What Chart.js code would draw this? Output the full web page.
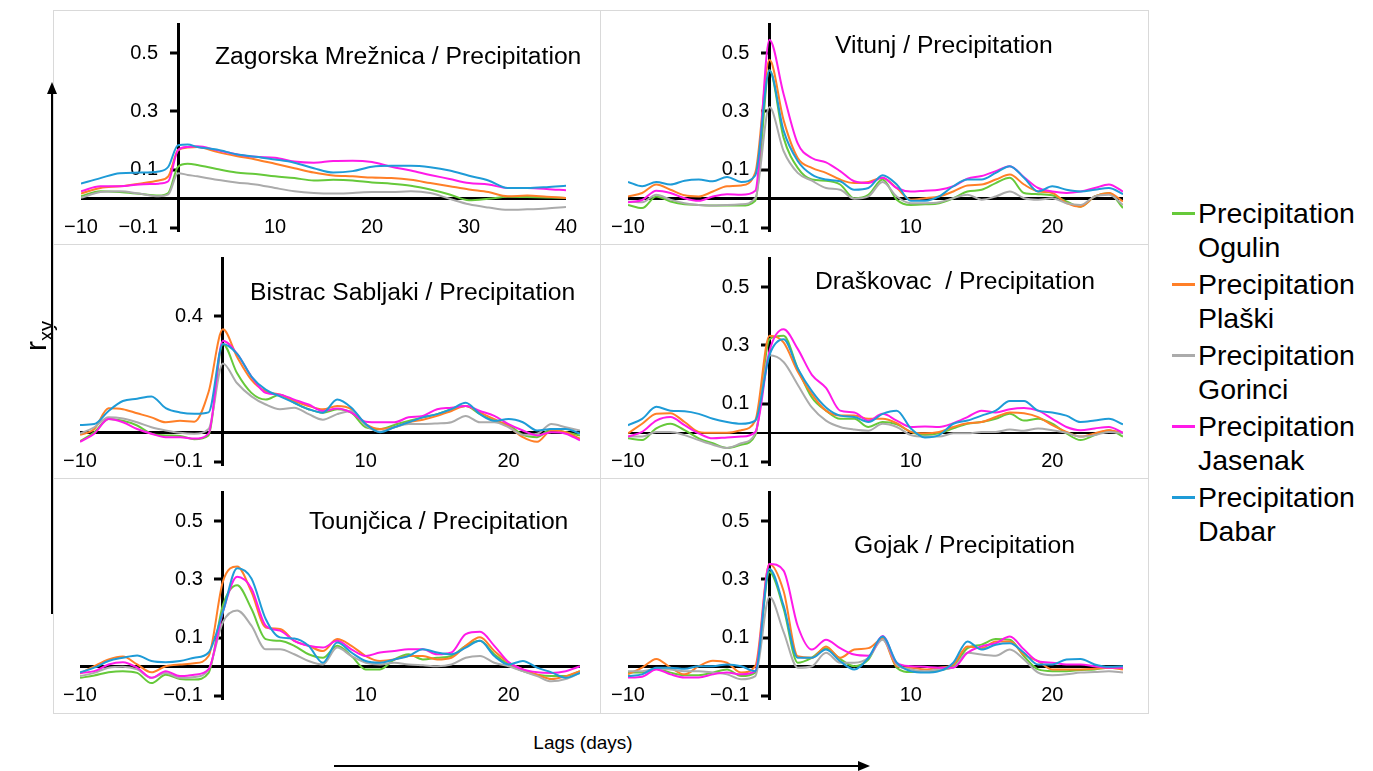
<!DOCTYPE html>
<html>
<head>
<meta charset="utf-8">
<script src="https://cdn.jsdelivr.net/npm/chart.js@4.4.1/dist/chart.umd.min.js"></script>
<style>
    body { margin: 0; background: #fff; font-family: "Liberation Sans", Arial, sans-serif; }
    #wrap { position: relative; width: 1373px; height: 771px; overflow: hidden; }
    #wrap canvas { position: absolute; }
    .ttl { position: absolute; font-size: 24.7px; line-height: 24px; white-space: pre; color: #000; }
    .leg { position: absolute; left: 1172px; font-size: 28.5px; line-height: 34px; color: #000; }
    .leg .sw { position: absolute; left: 0; top: 16px; width: 23px; height: 3px; }
    .leg .lt { position: absolute; left: 26px; top: 0; white-space: nowrap; }
    #xlab { position: absolute; left: 483px; width: 200px; top: 733px; text-align: center; font-size: 19px; line-height: 20px; }
    #ylab { position: absolute; left: 0px; top: 316px; width: 72px; height: 40px; text-align: center; font-size: 30px; line-height: 40px; transform: rotate(-90deg); }
    #ylab sub { font-size: 20px; }
    svg { position: absolute; left: 0; top: 0; pointer-events: none; }
</style>
</head>
<body>
<div id="wrap">
    <canvas id="c1" width="547" height="234" style="left:53px;top:10px"></canvas>
    <canvas id="c2" width="548" height="234" style="left:600px;top:10px"></canvas>
    <canvas id="c3" width="547" height="234" style="left:53px;top:244px"></canvas>
    <canvas id="c4" width="548" height="234" style="left:600px;top:244px"></canvas>
    <canvas id="c5" width="547" height="234" style="left:53px;top:478px"></canvas>
    <canvas id="c6" width="548" height="234" style="left:600px;top:478px"></canvas>
    <div id="titles"></div>
    <div id="legend"></div>
    <div id="xlab">Lags (days)</div>
    <div id="ylab">r<sub>xy</sub></div>
    <svg width="1373" height="771">
        <rect x="53.5" y="10.5" width="1095" height="703" fill="none" stroke="#d9d9d9" stroke-width="1"/>
        <line x1="600.5" y1="10" x2="600.5" y2="713" stroke="#d9d9d9" stroke-width="1"/>
        <line x1="53" y1="244.5" x2="1148" y2="244.5" stroke="#d9d9d9" stroke-width="1"/>
        <line x1="53" y1="478.5" x2="1148" y2="478.5" stroke="#d9d9d9" stroke-width="1"/>
        <line x1="52" y1="614" x2="52" y2="92" stroke="#000" stroke-width="2"/>
        <polygon points="52,82 47,94 57,94" fill="#000"/>
        <line x1="334" y1="766" x2="860" y2="766" stroke="#000" stroke-width="2"/>
        <polygon points="870,766 858,761 858,771" fill="#000"/>
    </svg>
</div>
<script>
    // series (same order in every panel)
    var seriesNames = ['Precipitation Ogulin', 'Precipitation Plaški', 'Precipitation Gorinci', 'Precipitation Jasenak', 'Precipitation Dabar'];
    var seriesColors = ['#66C93A', '#FF7F27', '#ABABAB', '#FF1AE8', '#1E9BD7'];

    var panelTitles = ['Zagorska Mrežnica / Precipitation', 'Vitunj / Precipitation', 'Bistrac Sabljaki / Precipitation',
        'Draškovac  / Precipitation', 'Tounjčica / Precipitation', 'Gojak / Precipitation'];

    // lags (days)
    var lagsLong = [-10, -8, -6, -4, -2, -1, 0, 1, 2, 4, 6, 8, 10, 12, 14, 16, 18, 20, 22, 24, 26, 28, 30, 32, 34, 36, 38, 40];
    var lagsDaily = [-10, -9, -8, -7, -6, -5, -4, -3, -2, -1, 0, 1, 2, 3, 4, 5, 6, 7, 8, 9, 10, 11, 12,
        13, 14, 15, 16, 17, 18, 19, 20, 21, 22, 23, 24, 25];

    // tick labels
    var xTicksLong = [-10, 10, 20, 30, 40];
    var xTicksShort = [-10, 10, 20];
    var yTicksStd = [-0.1, 0.1, 0.3, 0.5];
    var yTicksBistrac = [-0.1, 0.4];

    // rxy values: Ogulin, Plaški, Gorinci, Jasenak, Dabar
    var rZagorska = [
        [0.009, 0.026, 0.023, 0.017, 0.011, 0.02, 0.11, 0.12, 0.116, 0.102, 0.09, 0.085, 0.077, 0.071, 0.063, 0.065, 0.063, 0.056, 0.052, 0.045, 0.032, 0.015, -0.005, 0, 0.007, 0.006, 0.004, 0.003],
        [0.018, 0.037, 0.043, 0.052, 0.063, 0.077, 0.167, 0.176, 0.178, 0.161, 0.147, 0.135, 0.12, 0.105, 0.09, 0.08, 0.077, 0.073, 0.071, 0.065, 0.054, 0.043, 0.032, 0.023, 0.009, 0.011, 0.007, 0.003],
        [0.003, 0.023, 0.026, 0.018, 0.009, 0.015, 0.088, 0.082, 0.077, 0.065, 0.056, 0.049, 0.037, 0.026, 0.02, 0.018, 0.02, 0.023, 0.023, 0.026, 0.02, 0, -0.019, -0.03, -0.038, -0.036, -0.033, -0.028],
        [0.026, 0.043, 0.043, 0.049, 0.052, 0.06, 0.167, 0.178, 0.18, 0.167, 0.153, 0.144, 0.141, 0.128, 0.124, 0.13, 0.131, 0.126, 0.11, 0.097, 0.082, 0.068, 0.054, 0.049, 0.037, 0.037, 0.034, 0.029],
        [0.052, 0.071, 0.088, 0.09, 0.094, 0.11, 0.184, 0.186, 0.178, 0.169, 0.153, 0.144, 0.135, 0.124, 0.105, 0.09, 0.095, 0.11, 0.113, 0.113, 0.108, 0.097, 0.079, 0.063, 0.037, 0.037, 0.04, 0.045]
    ];

    var rVitunj = [
        [-0.021, -0.032, 0.008, -0.009, -0.019, -0.021, -0.023, -0.023, -0.023, -0.007, 0.442, 0.21, 0.106, 0.066, 0.062, 0.049, 0.002, 0.014, 0.066, -0.003, -0.021, -0.019, -0.015, 0.002, 0.025, 0.031, 0.054, 0.072, 0.02, 0.016, 0.012, -0.009, -0.027, 0.008, 0.02, -0.032],
        [0.008, 0.02, 0.049, 0.031, 0.012, 0.008, 0.025, 0.043, 0.046, 0.09, 0.477, 0.27, 0.14, 0.106, 0.089, 0.066, 0.054, 0.058, 0.072, 0.037, -0.003, 0.002, 0.008, 0.025, 0.046, 0.049, 0.066, 0.083, 0.049, 0.025, 0.02, -0.015, -0.027, 0.008, 0.02, -0.009],
        [-0.009, -0.012, 0.014, -0.003, -0.015, -0.021, -0.023, -0.021, -0.019, 0.002, 0.315, 0.164, 0.089, 0.062, 0.037, 0.031, 0, 0.008, 0.058, 0.008, -0.015, -0.015, -0.012, 0.002, 0.014, -0.003, 0.008, 0.025, 0.002, -0.003, 0.002, -0.015, -0.021, 0.008, 0.014, -0.021],
        [-0.012, -0.004, 0.028, 0.02, 0.002, -0.007, 0.008, 0.016, 0.014, 0.028, 0.546, 0.36, 0.19, 0.14, 0.125, 0.095, 0.06, 0.054, 0.072, 0.037, 0.025, 0.028, 0.031, 0.043, 0.069, 0.078, 0.095, 0.112, 0.074, 0.037, 0.025, 0.02, 0.025, 0.037, 0.049, 0.025],
        [0.058, 0.043, 0.058, 0.049, 0.062, 0.066, 0.06, 0.075, 0.058, 0.08, 0.44, 0.234, 0.13, 0.083, 0.066, 0.06, 0.031, 0.037, 0.081, 0.049, -0.007, -0.007, 0.008, 0.043, 0.066, 0.066, 0.089, 0.112, 0.072, 0.025, 0.043, 0.031, 0.025, 0.031, 0.037, 0.016]
    ];

    var rBistrac = [
        [-0.029, 0.002, 0.047, 0.041, 0.025, -0.003, -0.009, -0.011, -0.022, -0.009, 0.305, 0.204, 0.137, 0.114, 0.131, 0.103, 0.081, 0.069, 0.081, 0.069, 0.019, 0.013, 0.027, 0.041, 0.053, 0.064, 0.081, 0.092, 0.064, 0.041, 0.027, -0.007, -0.015, 0.013, 0.002, -0.009],
        [-0.007, 0.013, 0.084, 0.081, 0.067, 0.053, 0.036, 0.041, 0.038, 0.14, 0.355, 0.26, 0.182, 0.142, 0.131, 0.109, 0.092, 0.081, 0.092, 0.081, 0.03, 0.013, 0.019, 0.036, 0.045, 0.058, 0.075, 0.092, 0.069, 0.047, 0.022, -0.015, -0.031, 0.008, 0.002, -0.02],
        [-0.003, 0.019, 0.053, 0.049, 0.036, 0.019, 0.008, 0, -0.003, 0.013, 0.238, 0.17, 0.125, 0.097, 0.081, 0.086, 0.064, 0.045, 0.064, 0.075, 0.025, 0.004, 0.019, 0.03, 0.03, 0.032, 0.036, 0.058, 0.036, 0.036, 0.019, -0.007, -0.003, 0.03, 0.019, 0.008],
        [-0.031, -0.003, 0.047, 0.036, 0.013, -0.003, -0.015, -0.015, -0.02, -0.003, 0.316, 0.271, 0.193, 0.137, 0.131, 0.114, 0.097, 0.075, 0.083, 0.069, 0.038, 0.036, 0.036, 0.053, 0.058, 0.081, 0.086, 0.092, 0.075, 0.058, 0.03, 0.008, -0.009, 0.002, -0.003, -0.026],
        [0.027, 0.03, 0.075, 0.109, 0.117, 0.125, 0.085, 0.07, 0.065, 0.07, 0.305, 0.271, 0.193, 0.148, 0.125, 0.103, 0.081, 0.069, 0.114, 0.086, 0.03, 0.002, 0.019, 0.036, 0.053, 0.064, 0.081, 0.103, 0.064, 0.041, 0.047, 0.036, 0.008, 0.013, 0.013, -0.003]
    ];

    var rDraskovac = [
        [-0.019, -0.025, 0.015, 0.031, 0.009, -0.019, -0.036, -0.052, -0.041, -0.008, 0.321, 0.333, 0.221, 0.121, 0.076, 0.048, 0.048, 0.02, 0.037, 0.029, 0.003, -0.008, -0.002, 0.015, 0.031, 0.037, 0.048, 0.065, 0.042, 0.048, 0.031, -0.002, -0.025, -0.008, 0.009, -0.013],
        [-0.002, 0.031, 0.065, 0.067, 0.037, 0.003, 0, 0, 0.009, 0.042, 0.333, 0.31, 0.21, 0.132, 0.076, 0.059, 0.059, 0.048, 0.048, 0.033, 0.003, -0.002, 0.003, 0.02, 0.033, 0.037, 0.054, 0.07, 0.067, 0.054, 0.026, 0.003, -0.013, -0.002, 0.009, 0],
        [-0.013, -0.013, 0.003, 0.003, -0.008, -0.025, -0.041, -0.052, -0.036, -0.002, 0.266, 0.243, 0.165, 0.087, 0.042, 0.02, 0.011, 0.007, 0.031, 0.02, -0.008, -0.013, -0.013, -0.002, -0.002, 0.003, 0.003, 0.011, 0.007, 0.015, 0.009, 0, -0.013, -0.008, 0.003, -0.002],
        [-0.013, 0.003, 0.042, 0.054, 0.026, -0.002, -0.019, -0.016, -0.013, 0.003, 0.28, 0.355, 0.288, 0.199, 0.154, 0.076, 0.07, 0.042, 0.065, 0.042, 0.02, 0.022, 0.02, 0.033, 0.054, 0.076, 0.07, 0.081, 0.085, 0.076, 0.048, 0.02, 0.009, 0.015, 0.02, 0],
        [0.026, 0.048, 0.089, 0.076, 0.074, 0.065, 0.048, 0.037, 0.031, 0.042, 0.266, 0.321, 0.221, 0.143, 0.087, 0.059, 0.054, 0.037, 0.065, 0.076, 0.015, -0.016, -0.008, 0.031, 0.042, 0.059, 0.076, 0.109, 0.109, 0.076, 0.07, 0.059, 0.037, 0.042, 0.048, 0.029]
    ];

    var rTounjcica = [
        [-0.038, -0.03, -0.019, -0.015, -0.021, -0.056, -0.027, -0.042, -0.044, -0.021, 0.211, 0.28, 0.199, 0.095, 0.089, 0.072, 0.043, 0.031, 0.072, 0.037, -0.009, -0.009, 0.025, 0.043, 0.025, 0.031, 0.037, 0.072, 0.089, 0.043, 0.008, -0.015, -0.027, -0.032, -0.032, -0.015],
        [-0.023, 0.002, 0.025, 0.035, 0.008, -0.019, 0.002, 0.008, 0.012, 0.037, 0.292, 0.344, 0.257, 0.135, 0.13, 0.089, 0.072, 0.054, 0.095, 0.072, 0.037, 0.02, 0.025, 0.037, 0.037, 0.025, 0.031, 0.072, 0.101, 0.054, 0.014, -0.009, -0.027, -0.042, -0.032, -0.015],
        [-0.032, -0.021, -0.003, 0, -0.009, -0.038, -0.021, -0.038, -0.035, -0.009, 0.153, 0.193, 0.141, 0.06, 0.06, 0.043, 0.02, 0.008, 0.066, 0.037, 0.014, 0.008, 0.014, 0.008, 0.005, 0.002, 0.008, 0.031, 0.037, 0.014, 0.002, -0.015, -0.032, -0.05, -0.042, -0.021],
        [-0.021, -0.015, 0.008, 0.016, -0.003, -0.038, -0.015, -0.032, -0.027, -0.009, 0.188, 0.309, 0.269, 0.141, 0.124, 0.089, 0.072, 0.066, 0.089, 0.06, 0.037, 0.049, 0.054, 0.06, 0.06, 0.043, 0.049, 0.112, 0.12, 0.072, 0.016, -0.009, -0.019, -0.021, -0.015, 0.002],
        [-0.019, -0.003, 0.02, 0.031, 0.039, 0.02, 0.016, 0.02, 0.031, 0.049, 0.188, 0.338, 0.303, 0.164, 0.101, 0.097, 0.072, 0.014, 0.083, 0.049, 0.02, 0.014, 0.025, 0.037, 0.06, 0.049, 0.043, 0.066, 0.089, 0.037, 0.008, 0.02, -0.003, -0.019, -0.038, -0.021]
    ];

    var rGojak = [
        [-0.02, -0.02, -0.007, -0.02, -0.029, -0.029, -0.02, -0.009, -0.032, -0.02, 0.325, 0.2, 0.014, 0.031, 0.064, 0.027, 0.002, 0.025, 0.102, -0.003, -0.018, -0.018, -0.011, 0.002, 0.064, 0.076, 0.095, 0.093, 0.036, -0.009, -0.015, -0.015, -0.011, -0.009, -0.003, -0.007],
        [-0.026, -0.003, 0.027, -0.003, -0.026, 0.002, 0.021, 0.014, -0.02, 0.002, 0.353, 0.26, 0.036, 0.031, 0.07, 0.031, 0.059, 0.064, 0.095, 0.002, -0.003, -0.009, -0.003, 0.008, 0.07, 0.064, 0.087, 0.087, 0.042, 0.019, -0.009, -0.009, -0.009, -0.007, -0.003, -0.009],
        [-0.015, -0.015, -0.007, -0.009, -0.015, -0.015, -0.02, -0.026, -0.043, -0.032, 0.24, 0.12, -0.003, 0.002, 0.048, 0.014, 0.014, 0.031, 0.093, 0.008, -0.009, -0.015, -0.009, -0.003, 0.048, 0.042, 0.038, 0.059, 0.025, -0.02, -0.029, -0.026, -0.02, -0.018, -0.015, -0.02],
        [-0.037, -0.034, -0.009, -0.026, -0.037, -0.037, -0.026, -0.02, -0.026, -0.015, 0.353, 0.33, 0.14, 0.059, 0.093, 0.064, 0.042, 0.038, 0.106, 0.014, 0.002, 0, -0.003, -0.003, 0.048, 0.07, 0.081, 0.104, 0.059, 0.019, 0.014, 0.008, 0.008, 0.002, -0.003, -0.003],
        [-0.032, -0.026, -0.003, -0.003, -0.007, 0.002, 0.002, 0.008, 0.002, -0.015, 0.336, 0.21, 0.031, 0.031, 0.059, 0.019, -0.009, 0.031, 0.104, 0.014, -0.015, -0.02, -0.015, 0.014, 0.087, 0.059, 0.076, 0.081, 0.048, 0.008, 0.008, 0.025, 0.027, 0.008, 0, 0.002]
    ];

    Chart.defaults.font.family = '"Liberation Sans", Arial, sans-serif';

    function fmtNum(v) {
        var s = String(Math.abs(v));
        return (v < 0 ? '\u2212' : '') + s;
    }

    // placement of each panel: plot padding inside the canvas and title position on the page
    var panels = [
        { id: 'c1', w: 547, lags: lagsLong, values: rZagorska, xMax: 40, xTicks: xTicksLong, yTicks: yTicksStd, padL: 28, padR: 34, zeroW: 3, tx: 215, ty: 56 },
        { id: 'c2', w: 548, lags: lagsDaily, values: rVitunj, xMax: 25, xTicks: xTicksShort, yTicks: yTicksStd, padL: 28, padR: 25, zeroW: 3, tx: 835, ty: 45 },
        { id: 'c3', w: 547, lags: lagsDaily, values: rBistrac, xMax: 25, xTicks: xTicksShort, yTicks: yTicksBistrac, padL: 27, padR: 20, zeroW: 3, tx: 250, ty: 292 },
        { id: 'c4', w: 548, lags: lagsDaily, values: rDraskovac, xMax: 25, xTicks: xTicksShort, yTicks: yTicksStd, padL: 28, padR: 25, zeroW: 2, tx: 815, ty: 281 },
        { id: 'c5', w: 547, lags: lagsDaily, values: rTounjcica, xMax: 25, xTicks: xTicksShort, yTicks: yTicksStd, padL: 27, padR: 20, zeroW: 3, tx: 309, ty: 521 },
        { id: 'c6', w: 548, lags: lagsDaily, values: rGojak, xMax: 25, xTicks: xTicksShort, yTicks: yTicksStd, padL: 28, padR: 25, zeroW: 3, tx: 854, ty: 545 }
    ];

    var arrCharts = [];

    function drawPanel(p) {
        var ctx = document.getElementById(p.id).getContext('2d');

        var objDatasets = [];
        for (var i = 0; i < seriesNames.length; i++) {
            objDatasets.push({
                label: seriesNames[i],
                data: p.values[i],
                borderColor: seriesColors[i],
                backgroundColor: seriesColors[i],
                borderWidth: 2,
                pointRadius: 0,
                fill: false,
                cubicInterpolationMode: 'monotone',
                order: seriesNames.length - i   // Dabar drawn last, on top
            });
        }

        // y labels sit 20px left of the axis that crosses at lag 0
        var pxPerDay = (p.w - p.padL - p.padR) / (p.xMax + 10);
        var labelLag = -20 / pxPerDay;

        var chart = new Chart(ctx, {
            type: 'line',
            data: {
                labels: p.lags,
                datasets: objDatasets
            },
            options: {
                responsive: false,
                animation: false,
                devicePixelRatio: 1,
                layout: {
                    padding: { left: p.padL, right: p.padR, top: 14, bottom: 12 }
                },
                plugins: {
                    legend: { display: false },
                    tooltip: { enabled: false }
                },
                scales: {
                    x: {
                        type: 'linear',
                        min: -10,
                        max: p.xMax,
                        position: { y: -0.1 },
                        afterBuildTicks: function (axis) {
                            axis.ticks = p.xTicks.map(function (v) { return { value: v }; });
                        },
                        ticks: {
                            color: '#000',
                            font: { size: 20 },
                            padding: -12,
                            maxRotation: 0,
                            autoSkip: false,
                            callback: function (v) { return fmtNum(v); }
                        },
                        grid: { display: false, drawTicks: false },
                        border: { display: false }
                    },
                    y: {
                        type: 'linear',
                        min: -0.114,
                        max: 0.6,
                        position: { x: 0 },
                        afterBuildTicks: function (axis) {
                            // 0 is kept only for the black zero line
                            axis.ticks = p.yTicks.concat([0]).sort(function (a, b) { return a - b; })
                                .map(function (v) { return { value: v }; });
                        },
                        ticks: { display: false, padding: 0 },
                        grid: {
                            drawOnChartArea: true,
                            drawTicks: true,
                            tickLength: 7,
                            color: function (c) { return c.tick && c.tick.value === 0 ? '#000' : 'rgba(0,0,0,0)'; },
                            lineWidth: function (c) { return c.tick && c.tick.value === 0 ? p.zeroW : 0; },
                            tickColor: function (c) { return c.tick && c.tick.value === 0 ? 'rgba(0,0,0,0)' : '#000'; },
                            tickWidth: 3
                        },
                        border: { display: true, color: '#000', width: 3 }
                    },
                    yl: {
                        type: 'linear',
                        axis: 'y',
                        min: -0.114,
                        max: 0.6,
                        position: { x: labelLag },
                        afterBuildTicks: function (axis) {
                            axis.ticks = p.yTicks.map(function (v) { return { value: v }; });
                        },
                        ticks: {
                            color: '#000',
                            font: { size: 20 },
                            padding: 0,
                            autoSkip: false,
                            callback: function (v) { return fmtNum(v); }
                        },
                        grid: { display: false, drawTicks: false },
                        border: { display: false }
                    }
                }
            }
        });
        arrCharts.push(chart);
    }

    for (var k = 0; k < panels.length; k++) {
        drawPanel(panels[k]);
        var t = document.createElement('div');
        t.className = 'ttl';
        t.style.left = panels[k].tx + 'px';
        t.style.top = (panels[k].ty - 12) + 'px';
        t.textContent = panelTitles[k];
        document.getElementById('titles').appendChild(t);
    }

    // legend, two text lines per entry
    var leg = document.getElementById('legend');
    for (var j = 0; j < seriesNames.length; j++) {
        var d = document.createElement('div');
        d.className = 'leg';
        d.style.top = (196 + j * 71) + 'px';
        var parts = seriesNames[j].split(' ');
        d.innerHTML = '<span class="sw" style="background:' + seriesColors[j] + '"></span>' +
            '<span class="lt">' + parts[0] + '<br>' + parts.slice(1).join(' ') + '</span>';
        leg.appendChild(d);
    }
</script>
</body>
</html>
